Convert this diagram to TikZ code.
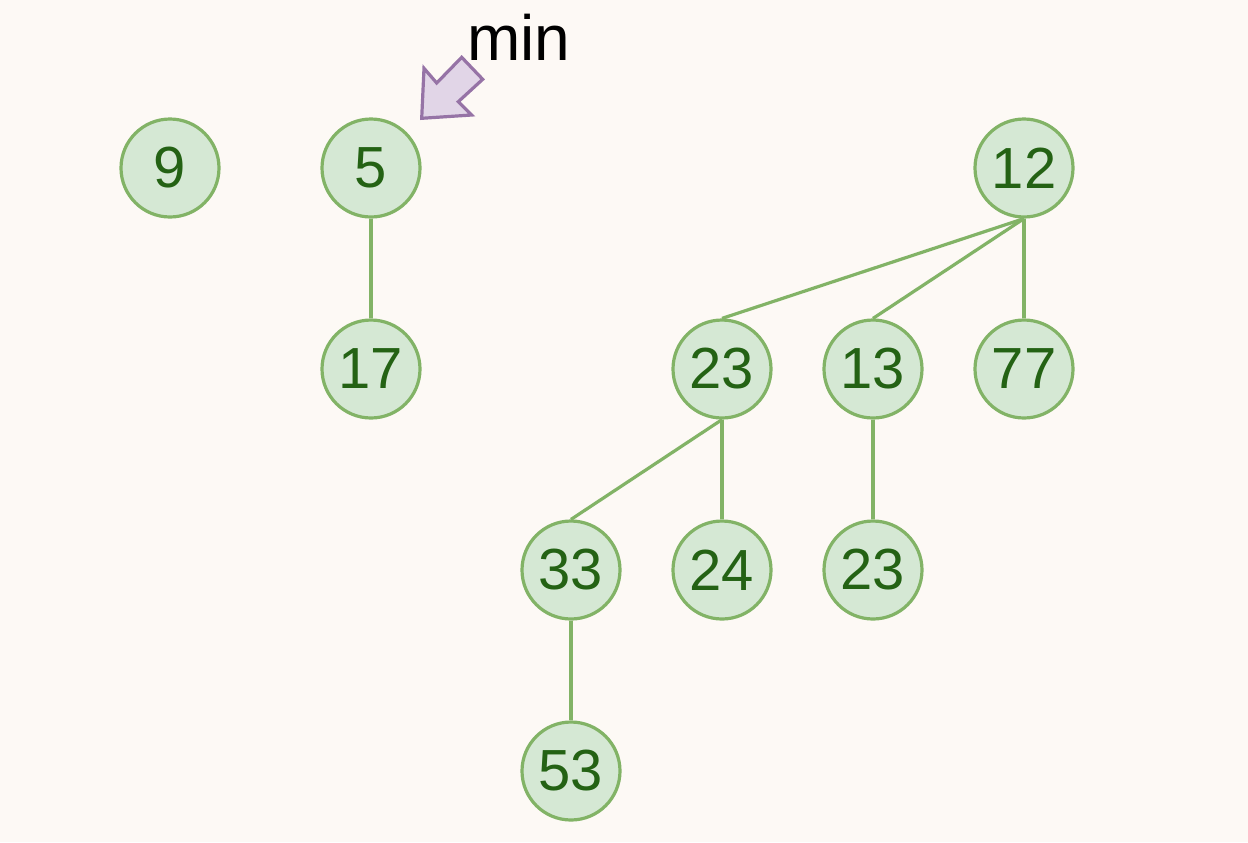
\documentclass[tikz,border=0pt]{standalone}
\usepackage{fontspec}
\setmainfont{Liberation Sans}
\usetikzlibrary{positioning}
\definecolor{bgcol}{RGB}{253,249,245}
\definecolor{nodefill}{HTML}{D5E8D4}
\definecolor{nodeline}{HTML}{82B366}
\definecolor{nodetext}{RGB}{36,98,20}
\definecolor{arrfill}{HTML}{E1D5E7}
\definecolor{arrline}{HTML}{9673A6}

\tikzset{
  cnode/.style={circle, draw=nodeline, fill=nodefill, line width=1.6pt, minimum size=49pt, inner sep=0pt, text=nodetext, font=\fontsize{29}{29}\selectfont},
  edge/.style={nodeline, line width=1.6pt},
  minarrow/.style={draw=arrline, fill=arrfill, line width=1.6pt, line join=miter}
}

\begin{document}
\begin{tikzpicture}[x=0.5pt, y=0.5pt]
\fill[bgcol] (0,0) rectangle (1248,-842);
\useasboundingbox (0,0) rectangle (1248,-842);

% first row
\node[cnode] (N9) at (170,-168) {9};
\node[cnode, right=49.9pt of N9] (N5) {5};
\node[cnode, below=49.9pt of N5] (N17) {17};
\node[cnode] (N12) at (1024,-168) {12};

% children of 12
\node[cnode, below=49.9pt of N12] (N77) {77};
\node[cnode, left=24.9pt of N77] (N13) {13};
\node[cnode, left=24.9pt of N13] (N23a) {23};

% third row
\node[cnode, below=49.9pt of N23a] (N24) {24};
\node[cnode, left=24.9pt of N24] (N33) {33};
\node[cnode, below=49.9pt of N13] (N23b) {23};
\node[cnode, below=49.9pt of N33] (N53) {53};

% min pointer
\draw[minarrow] (421.7,-118.3) -- (424,-68.3) -- (436.7,-83) -- (461.7,-57.3) -- (482.7,-79.3) -- (458.3,-101.7) -- (471.7,-115) -- cycle;
\node[font=\fontsize{32}{32}\selectfont, anchor=base] (minlabel) at (519,-60) {min};

\draw[edge] (N5) -- (N17);
\draw[edge] (N12.south) -- (N23a.north);
\draw[edge] (N12.south) -- (N13.north);
\draw[edge] (N12.south) -- (N77.north);
\draw[edge] (N23a.south) -- (N33.north);
\draw[edge] (N23a.south) -- (N24.north);
\draw[edge] (N13) -- (N23b);
\draw[edge] (N33) -- (N53);
\end{tikzpicture}
\end{document}
